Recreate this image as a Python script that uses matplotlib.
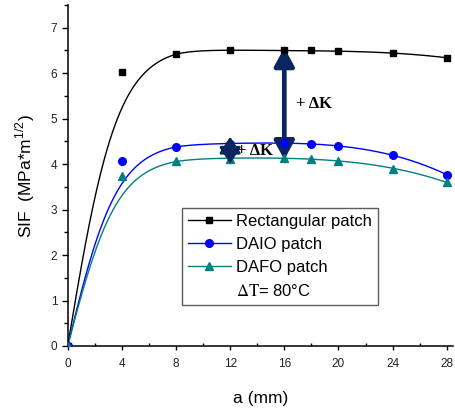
import numpy as np
import matplotlib
matplotlib.use('Agg')
import matplotlib.pyplot as plt
from matplotlib.ticker import MultipleLocator
from matplotlib.lines import Line2D

plt.rcParams['font.family'] = ['Liberation Sans', 'DejaVu Sans']
plt.rcParams['mathtext.fontset'] = 'stix'

# Crack length (mm) and stress intensity factor for each patch shape
crack_len = [0, 4, 8, 12, 16, 18, 20, 24, 28]
sif_rect = [0, 6.02, 6.42, 6.50, 6.50, 6.50, 6.48, 6.44, 6.34]
sif_daio = [0, 4.06, 4.38, 4.45, 4.46, 4.45, 4.40, 4.19, 3.77]
sif_dafo = [0, 3.74, 4.06, 4.12, 4.13, 4.12, 4.07, 3.90, 3.60]

series = [
    ('Rectangular patch', sif_rect, 'black', 's'),
    ('DAIO patch', sif_daio, '#0000ff', 'o'),
    ('DAFO patch', sif_dafo, '#008080', '^'),
]

TAU = 3.7  # rise length of the fitted curves


def fit_curve(x, y, xs):
    # plateau polynomial times a tanh rise, fitted on the developed region
    x = np.asarray(x, float)
    y = np.asarray(y, float)
    m = x >= 8
    p = np.polyfit(x[m], y[m] / np.tanh(x[m] / TAU), 3)
    return np.polyval(p, np.maximum(xs, 8)) * np.tanh(xs / TAU)


fig = plt.figure(figsize=(4.55, 4.16), dpi=100)
ax = fig.add_axes([0.1488, 0.1683, 0.8464, 0.8197])

xs = np.linspace(0, 28, 300)
for name, vals, col, mk in series:
    ax.plot(xs, fit_curve(crack_len, vals, xs), color=col, lw=1.0, zorder=2)
    ax.plot(crack_len, vals, linestyle='none', marker=mk, color=col,
            ms=5.5 if mk != 's' else 5, zorder=4)

# difference arrows between the patches
navy = '#0b2560'
ax.annotate('', xy=(16, sif_rect[4] + 0.06), xytext=(16, sif_dafo[4] - 0.03),
            arrowprops=dict(arrowstyle='<|-|>,head_length=0.55,head_width=0.3',
                            mutation_scale=20, color=navy, lw=3.4,
                            shrinkA=0, shrinkB=0), zorder=3)
ax.annotate('', xy=(12, sif_daio[3] + 0.15), xytext=(12, sif_dafo[3] - 0.11),
            arrowprops=dict(arrowstyle='<|-|>,head_length=0.5,head_width=0.33',
                            mutation_scale=20, color=navy, lw=2,
                            shrinkA=0, shrinkB=0), zorder=5)
ax.text(16.85, 5.33, '+ ΔK', family=['Liberation Serif'], weight='bold',
        fontsize=12, va='center', ha='left')
ax.text(12.5, 4.28, '+ ΔK', family=['Liberation Serif'], weight='bold',
        fontsize=12, va='center', ha='left', zorder=6)

ax.set_xlim(0, 28.45)
ax.set_ylim(0, 7.5)
ax.xaxis.set_major_locator(MultipleLocator(4))
ax.xaxis.set_minor_locator(MultipleLocator(2))
ax.yaxis.set_major_locator(MultipleLocator(1))
ax.yaxis.set_minor_locator(MultipleLocator(0.5))
ax.tick_params(axis='x', which='major', direction='out', length=3, width=1, pad=5.5)
ax.tick_params(axis='x', which='minor', direction='in', length=2.2, width=1)
ax.tick_params(axis='y', which='major', direction='out', length=4.5, width=1, pad=3)
ax.tick_params(axis='y', which='minor', direction='out', length=3, width=1)
ax.tick_params(labelsize=8.5, labelcolor='#222222')
for s in ['top', 'right']:
    ax.spines[s].set_visible(False)
for s in ['left', 'bottom']:
    ax.spines[s].set_linewidth(1.1)

ax.set_xlabel('a (mm)', fontsize=12.5, labelpad=15)
ax.set_ylabel(r'SIF  (MPa*m$^{\mathregular{1/2}}$)', fontsize=12.5, labelpad=10)

handles = [Line2D([], [], color=c, marker=m, lw=1.0, ms=5.5 if m != 's' else 5)
           for _, _, c, m in series]
handles.append(Line2D([], [], linestyle='none', marker=None))
labels = [s[0] for s in series] + [r'$\Delta\mathrm{T}$= 80°C']
leg = ax.legend(handles, labels, loc='upper left', bbox_to_anchor=(0.296, 0.404),
                borderaxespad=0, fontsize=12, handlelength=2.6, handletextpad=0.3,
                labelspacing=0.48, borderpad=0.35, fancybox=False, frameon=True)
leg.get_frame().set_edgecolor('#333333')
leg.get_frame().set_linewidth(1.0)

fig.savefig('out.png', dpi=100)
